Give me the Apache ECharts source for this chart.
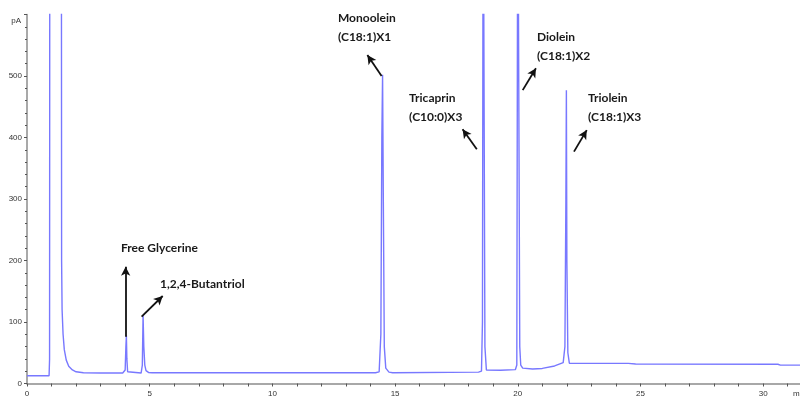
<!DOCTYPE html>
<html>
<head>
<meta charset="utf-8">
<script src="https://cdn.jsdelivr.net/npm/echarts@6/dist/echarts.min.js"></script>
<style>html,body{margin:0;padding:0;background:#fff;}#c{width:800px;height:397px;}</style>
</head>
<body>
<div id="c"></div>
<script>
// Retention time (min) and detector signal (pA) of the chromatogram trace
const times = [0, 0.90, 0.92, 0.93, 1.40, 1.41, 1.43, 1.47, 1.52, 1.60, 1.70, 1.85, 2.00, 2.30, 3.00, 3.90, 3.97, 4.00, 4.03, 4.05, 4.07, 4.10, 4.15, 4.65, 4.70, 4.73, 4.76, 4.80, 4.85, 4.95, 5.10, 14.20, 14.35, 14.42, 14.46, 14.49, 14.52, 14.56, 14.62, 14.75, 14.90, 18.40, 18.52, 18.56, 18.59, 18.63, 18.66, 18.72, 18.80, 19.30, 19.90, 19.96, 20.00, 20.05, 20.08, 20.12, 20.20, 20.60, 21.00, 21.50, 21.85, 21.92, 21.96, 21.98, 22.00, 22.04, 22.10, 23.00, 24.50, 24.80, 30.60, 30.70, 31.60];
const signal = [12.5, 12.5, 40, 900, 900, 200, 120, 80, 55, 38, 28, 22, 19, 17.5, 17, 17, 15.5, 22, 60, 78, 40, 19, 17, 17, 30, 111, 60, 30, 21, 18, 17.5, 17.5, 19, 80, 400, 502, 300, 60, 25, 18.5, 17.5, 18.5, 20, 100, 900, 900, 60, 22, 21, 21.5, 22.5, 30, 900, 900, 60, 30, 25, 23.5, 24.5, 28.5, 34, 60, 300, 477, 200, 50, 33, 32.8, 32.8, 31.8, 31.3, 29.8, 29.8];
// Axis tick values
const xTicks = [0, 5, 10, 15, 20, 25, 30];
const yTicks = [0, 100, 200, 300, 400, 500, 600];
// Peak annotations: label lines, label anchor [min, pA], arrow from and to [min, pA]
const peakNames = ['Free Glycerine', '1,2,4-Butantriol', 'Monoolein\n(C18:1)X1', 'Tricaprin\n(C10:0)X3', 'Diolein\n(C18:1)X2', 'Triolein\n(C18:1)X3'];
const labelAnchors = [[3.83, 220.3], [5.42, 161.8], [12.67, 578.9], [15.57, 448.8], [20.78, 548], [22.86, 448]];
const arrowFrom = [[4.02, 76], [4.67, 108.6], [14.45, 500], [18.33, 380.8], [20.20, 477], [22.29, 377]];
const arrowTo = [[4.02, 190], [5.53, 142.3], [13.87, 534], [17.75, 413.3], [20.74, 512.5], [22.81, 412]];

const trace = times.map((t, i) => [t, signal[i]]);
const chart = echarts.init(document.getElementById('c'), null, {renderer: 'canvas'});
const tickFont = {fontFamily: 'Liberation Sans, Arial, sans-serif', fontSize: 8, color: '#333'};
const axisGray = '#8c8c8c';
chart.setOption({
  animation: false,
  backgroundColor: '#fff',
  grid: {left: 27, right: 0, top: 14.5, bottom: 13.5, containLabel: false, outerBoundsMode: 'none'},
  xAxis: {
    type: 'value', min: xTicks[0], max: 31.5, interval: 5,
    axisLine: {show: true, lineStyle: {color: axisGray, width: 1.5}},
    axisTick: {show: true, length: 3, lineStyle: {color: '#555'}},
    minorTick: {show: true, splitNumber: 5, length: 3, lineStyle: {color: '#555'}},
    splitLine: {show: false},
    axisLabel: Object.assign({margin: 6, showMaxLabel: false,
      formatter: v => xTicks.includes(v) ? String(v) : ''}, tickFont),
    name: 'min', nameLocation: 'end', nameGap: -7,
    nameTextStyle: Object.assign({align: 'left', verticalAlign: 'top', padding: [6, 0, 0, 0]}, tickFont)
  },
  yAxis: {
    type: 'value', min: yTicks[0], max: yTicks[yTicks.length - 1], interval: 100,
    axisLine: {show: true, lineStyle: {color: axisGray, width: 1.5}},
    axisTick: {show: true, length: 3, lineStyle: {color: '#555'}},
    minorTick: {show: true, splitNumber: 5, length: 2, lineStyle: {color: '#555'}},
    splitLine: {show: false},
    axisLabel: Object.assign({margin: 5, formatter: v => v === 600 ? '' : String(v)}, tickFont),
    name: 'pA', nameLocation: 'end', nameGap: -6,
    nameTextStyle: Object.assign({align: 'right', verticalAlign: 'middle', padding: [0, 6, 0, 0]}, tickFont)
  },
  series: [{
    type: 'line', data: trace, showSymbol: false, symbol: 'none', clip: true,
    lineStyle: {color: '#7878ff', width: 1.4},
    markLine: {
      silent: true, symbol: ['none', 'arrow'], symbolSize: [7, 9],
      lineStyle: {color: '#111', width: 1.8, type: 'solid'},
      label: {show: false},
      data: arrowFrom.map((p, i) => [{coord: p}, {coord: arrowTo[i]}])
    },
    markPoint: {
      silent: true, symbol: 'circle', symbolSize: 0,
      label: {show: true, position: 'right', distance: 0, align: 'left', verticalAlign: 'middle',
        fontFamily: 'Lato, sans-serif',
        fontWeight: 'bold', fontSize: 12, lineHeight: 19, color: '#1a1a1a',
        formatter: p => p.name},
      data: peakNames.map((n, i) => ({name: n, coord: labelAnchors[i]}))
    }
  }]
});
</script>
</body>
</html>
